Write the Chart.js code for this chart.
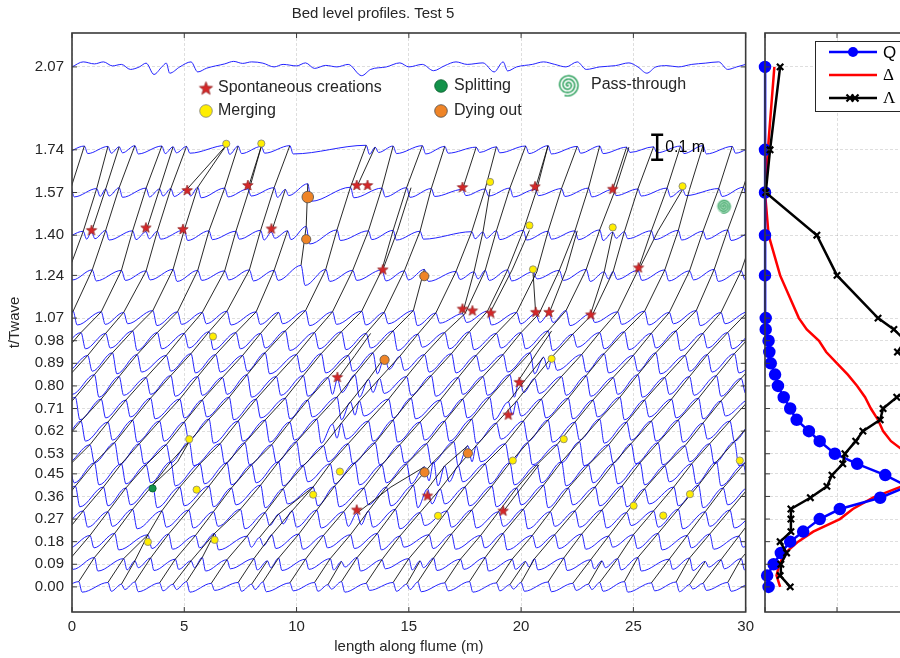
<!DOCTYPE html>
<html lang="en">
<head>
<meta charset="UTF-8">
<title>Bed level profiles. Test 5</title>
<style>
  html, body { margin: 0; padding: 0; background: #fff; overflow: hidden; }
  body { width: 900px; height: 658px; position: relative; }
  #leftBox { position: absolute; left: 0; top: 0; width: 760px; height: 658px; }
  #rightBox { position: absolute; left: 755px; top: 0; width: 300px; height: 658px; }
</style>
</head>
<body>
<div id="leftBox"><canvas id="profiles"></canvas></div>
<div id="rightBox"><canvas id="stats"></canvas></div>

<script src="https://cdn.jsdelivr.net/npm/chart.js"></script>
<script>
// profile levels (t/Twave), also the y tick labels
const levels = [0.00, 0.09, 0.18, 0.27, 0.36, 0.45, 0.53, 0.62, 0.71, 0.80, 0.89, 0.98, 1.07, 1.24, 1.40, 1.57, 1.74, 2.07];

// typical crest-to-trough height (m) and lee face length (m) on each tracked profile
const crestRelief = [0.035, 0.045, 0.055, 0.065, 0.075, 0.08, 0.08, 0.08, 0.075, 0.075, 0.07, 0.065, 0.05, 0.04, 0.035, 0.035, 0.03];
const leeLength = [0.15, 0.15, 0.18, 0.2, 0.2, 0.2, 0.2, 0.2, 0.2, 0.2, 0.2, 0.2, 0.18, 0.18, 0.15, 0.15, 0.15];

// crest tracks: [first level index, size factor, crest x (m) on successive levels...]
const crestTracks = [
  [0, 0.9, 30.3, 31.0],
  [0, 1.0, 29.2, 29.8, 30.7],
  [0, 0.8, 28.1, 28.9, 29.7, 30.5],
  [0, 1.1, 26.9, 27.5, 28.4, 29.3, 30.2, 31.0],
  [0, 0.9, 25.8, 26.6, 27.4, 28.2, 29.0, 29.9, 30.8],
  [0, 1.2, 24.6, 25.2, 26.1, 27.0, 27.9, 28.7, 29.5, 30.4],
  [0, 1.0, 23.5, 24.3, 25.0, 25.9, 26.8, 27.6, 28.4, 29.3, 30.2, 31.0],
  [0, 0.8, 22.3, 23.1, 23.9, 24.7, 25.5, 26.4, 27.3, 28.1, 28.9, 29.8, 30.7],
  [0, 1.1, 21.2, 21.9, 22.7, 23.6, 24.5, 25.3, 26.1, 27.0, 27.9, 28.7, 29.5, 30.4],
  [0, 1.0, 20.0, 20.6, 21.5, 22.4, 23.3, 24.1, 24.9, 25.8, 26.7, 27.5, 28.3, 29.2, 30.1, 31.0],
  [0, 0.9, 18.9, 19.6, 20.5, 21.3, 22.1, 23.0, 23.9, 24.7, 25.5, 26.4, 27.3, 28.1, 28.9, 29.8, 30.4, 31.0],
  [0, 1.2, 17.7, 18.4, 19.2, 20.1, 21.0, 21.8, 22.6, 23.5, 24.4, 25.2, 26.0, 26.9, 27.8, 28.6, 29.2, 29.9, 30.5],
  [0, 0.9, 16.6, 17.3, 18.2, 19.0, 19.8, 20.7, 21.6, 22.4, 23.2, 24.1, 25.0, 25.8, 26.6, 27.5, 28.1, 28.8, 29.4],
  [0, 1.1, 15.4, 16.1, 16.9, 17.8, 18.7, 19.5, 20.3, 21.2, 22.1, 22.9, 23.7, 24.6, 25.5, 26.4, 27.0, 27.5, 28.1],
  [0, 1.0, 14.3, 15.0, 15.9, 16.7, 17.5, 18.4, 19.3, 20.1, 20.9, 21.8, 22.7, 23.5, 24.3, 25.2, 25.8, 26.5, 27.1],
  [0, 0.8, 13.1, 13.8, 14.6, 15.5, 16.4, 17.2, 18.0, 18.9, 19.8, 20.6, 21.4, 22.3, 23.2, 24.1, 24.6, 25.2, 25.9],
  [0, 1.2, 12.0, 12.7, 13.6, 14.4, 15.2, 16.1, 17.0, 17.8, 18.6, 19.5, 20.4, 21.2, 22.0, 22.9, 23.5, 24.2, 24.8],
  [0, 1.0, 10.8, 11.5, 12.4, 13.2, 14.0, 14.9, 15.8, 16.6, 17.4, 18.3, 19.2, 20.0, 20.8, 21.7, 22.4, 23.0, 23.5],
  [0, 0.9, 9.7, 10.4, 11.2, 12.1, 13.0, 13.8, 14.6, 15.5, 16.4, 17.2, 18.0, 18.9, 19.8, 20.7, 21.2, 21.8, 22.5],
  [0, 1.1, 8.5, 9.2, 10.1, 10.9, 11.7, 12.6, 13.5, 14.3, 15.1, 16.0, 16.9, 17.7, 18.5, 19.4, 20.1, 20.7, 21.2],
  [0, 1.0, 7.4, 8.1, 8.9, 9.8, 10.74, 11.5, 12.3, 13.2, 14.1, 14.9, 15.7, 16.6, 17.5, 18.4, 18.9, 19.5, 20.2],
  [0, 0.8, 6.2, 6.9, 7.8, 8.6, 9.4, 10.3, 11.2, 12.0, 12.8, 13.7, 14.6, 15.4, 16.2, 17.1, 17.8, 18.4, 18.9],
  [0, 1.2, 5.1, 5.8, 6.35, 7.5, 8.4, 9.2, 10.0, 10.9, 11.8, 12.6, 13.4, 14.3, 15.2, 15.69],
  [0, 0.9, 3.9, 4.6, 5.5, 6.3, 7.1, 8.0, 8.9, 9.7, 10.5, 11.4, 12.3, 13.1, 13.9, 14.8, 15.5, 16.0, 16.6],
  [0, 1.1, 2.8, 3.5, 4.3, 5.2, 6.1, 6.9, 7.7, 8.6, 9.5, 10.3, 11.1, 12.0, 12.9, 13.8, 14.3, 14.9, 15.6],
  [0, 1.0, 1.6, 2.3, 3.38, 4.0, 4.8, 5.7, 6.6, 7.4, 8.2, 9.1, 10.0, 10.8, 11.6, 12.5, 13.2, 13.8, 14.3],
  [0, 1.2, 0.3, 1.0, 1.9, 2.7, 3.59, 4.4, 5.22, 6.1, 7.0, 7.8, 8.6, 9.5, 10.4, 11.3, 11.8, 12.4, 13.1],
  [0, 0.9, -0.8, -0.1, 0.8, 1.6, 2.4, 3.3, 4.2, 5.0, 5.8, 6.7, 7.6, 8.4, 9.2],
  [2, 1.0, -0.35, 0.5, 1.4, 2.2, 3.0, 3.9, 4.8, 5.6, 6.4, 7.3, 8.2, 9.0, 9.6],
  [3, 1.1, -0.7, 0.15, 1.0, 1.9, 2.7, 3.5, 4.4, 5.3, 6.1, 6.9, 7.9, 8.4, 9.0, 9.7],
  [4, 0.9, -0.95, -0.1, 0.8, 1.6, 2.4, 3.3, 4.2, 5.0, 5.8, 6.8, 7.3, 7.9, 8.43],
  [6, 1.0, -0.45, 0.4, 1.3, 2.1, 2.9, 3.8, 4.7, 5.6, 6.1, 6.8, 7.4],
  [7, 1.2, -0.7, 0.15, 1.0, 1.8, 2.7, 3.6, 4.5, 5.0, 5.6, 6.87],
  [8, 0.9, -1.05, -0.2, 0.7, 1.5, 2.3, 3.3, 3.8, 4.4, 5.1],
  [10, 1.0, -0.45, 0.4, 1.3, 2.2, 2.7, 3.3, 4.0],
  [11, 1.1, -0.8, 0.05, 0.9, 1.5, 2.1, 2.8],
  [12, 0.9, -1.05, -0.15, 0.5, 1.1, 1.6],
  [14, 1.0, -0.65, -0.05, 0.55],
  [15, 1.0, -1.15, -0.55],
  // short lived crests
  [0, 0.6, 2.2, 2.8, 3.38],
  [0, 0.6, 4.5, 5.3, 6.35],
  [0, 0.6, 8.0, 8.7], [0, 0.5, 11.4, 12.0], [0, 0.6, 14.9, 15.5],
  [0, 0.5, 19.5, 20.2], [0, 0.6, 23.0, 23.6], [0, 0.5, 27.5, 28.2],
  [2, 0.6, 8.35, 9.2, 10.74],
  [3, 0.7, 12.68, 14.2, 15.7],
  [3, 0.7, 19.2, 20.0, 20.8],
  [4, 0.8, 3.59, 4.7, 5.22],
  [4, 0.8, 15.83, 16.6, 17.63],
  [7, 0.7, 11.6, 12.4, 13.2, 13.92],
  [8, 0.7, 19.43, 20.2, 21.0],
  [9, 0.7, 11.82, 12.6, 13.3],
  [9, 0.7, 19.92, 20.7, 21.36],
  [13, 2.0, 10.2, 10.43, 10.5],
  [12, 0.7, 17.39, 17.9, 18.3, 18.62],
  [12, 0.7, 18.65, 19.6, 20.37],
  [12, 0.7, 20.65, 20.53],
  [12, 0.7, 21.24, 22.0, 22.5],
  [12, 0.7, 23.1, 23.7, 24.08],
  [13, 0.7, 13.84, 14.5, 15.1],
  [13, 0.7, 25.23, 26.1, 27.19],
  [14, 0.8, 0.87, 1.5, 2.1],
  [14, 0.8, 3.29, 3.9, 4.5],
  [14, 0.7, 8.88, 9.5],
  [15, 0.8, 5.13, 6.87], [15, 0.8, 7.83, 8.43], [15, 0.7, 12.68, 13.5],
  [15, 0.7, 17.39, 18.0], [15, 0.7, 20.62, 21.2], [15, 0.7, 24.08, 24.7]
];

// last profile (t/Twave = 2.07): x (m), bed level (m)
const topProfile = [0,0.0, 0.5,0.02, 1.0,0.012, 1.4,0.02, 1.8,0.004, 2.2,0.01, 2.6,-0.01, 3.0,0.0, 3.3,0.015,
  3.65,-0.03, 4.0,0.0, 4.2,0.015, 4.35,-0.025, 4.8,0.0, 5.3,0.02, 5.6,-0.02, 6.0,-0.005, 6.8,0.012, 7.2,0.022,
  7.6,0.014, 8.0,0.02, 8.5,0.015, 9.0,0.0, 9.4,0.01, 10.0,0.004, 10.4,0.016, 10.8,-0.006, 11.3,0.006, 11.8,0.0,
  12.3,0.01, 12.9,-0.035, 13.3,-0.01, 14.0,0.0, 14.6,0.016, 15.0,0.0, 15.6,0.01, 16.1,-0.015, 16.6,0.005,
  17.1,0.02, 17.6,0.01, 18.3,0.016, 18.8,-0.02, 19.2,0.02, 19.4,-0.016, 19.8,0.0, 20.5,0.01, 21.0,0.02,
  21.5,0.01, 22.0,0.0, 22.5,0.02, 22.9,-0.01, 23.5,0.0, 24.2,0.005, 24.8,0.016, 25.2,0.0, 25.6,-0.025,
  26.0,0.0, 26.5,0.005, 27.0,0.0, 27.6,0.01, 28.2,0.015, 28.8,0.02, 29.2,-0.01, 29.6,0.0, 30.0,0.01];

// events [x (m), t/Twave]
const creations = [[0.87,1.421],[3.29,1.431],[4.94,1.425],[8.88,1.427],[5.13,1.58],[7.83,1.60],[12.68,1.60],
  [13.16,1.60],[17.39,1.592],[20.62,1.595],[24.08,1.585],[13.84,1.264],[25.23,1.272],[17.39,1.108],[17.83,1.101],
  [18.65,1.092],[20.65,1.095],[21.24,1.095],[23.1,1.085],[11.82,0.836],[19.92,0.816],[19.43,0.686],[15.83,0.364],
  [12.68,0.308],[19.2,0.304]];
const merging = [[6.87,1.764],[8.43,1.765],[18.62,1.612],[27.19,1.595],[20.37,1.439],[24.08,1.431],[20.53,1.264],
  [6.28,0.997],[21.36,0.908],[5.22,0.588],[21.9,0.588],[11.93,0.459],[19.63,0.503],[29.74,0.503],[5.55,0.387],
  [10.74,0.367],[27.52,0.369],[25.01,0.323],[26.33,0.284],[16.3,0.283],[3.38,0.179],[6.35,0.187]];
const splitting = [[3.59,0.392]];
const dyingOut = [[10.50,1.552],[10.43,1.384],[15.69,1.237],[13.92,0.904],[17.63,0.532],[15.7,0.456]];
const passThrough = [[29.03,1.515]];

// right panel
const tStat = [0, 0.045, 0.09, 0.135, 0.18, 0.22, 0.27, 0.31, 0.355, 0.40, 0.445, 0.49, 0.53, 0.58, 0.62, 0.665,
  0.71, 0.755, 0.80, 0.845, 0.89, 0.935, 0.98, 1.025, 1.07, 1.24, 1.40, 1.57, 1.74, 2.07];
const qStat = [0.05, 0.03, 0.12, 0.22, 0.35, 0.53, 0.76, 1.04, 1.60, 1.98, 1.67, 1.28, 0.97, 0.76, 0.61, 0.44,
  0.35, 0.26, 0.18, 0.14, 0.08, 0.06, 0.05, 0.01, 0.01, 0.0, 0.0, 0.0, 0.0, 0.0];
const deltaStat = [0.21, 0.16, 0.20, 0.28, 0.46, 0.67, 1.04, 1.22, 1.50, 1.90, 2.30, 2.32, 1.98, 1.75, 1.64, 1.57,
  1.47, 1.39, 1.28, 1.15, 1.00, 0.85, 0.75, 0.58, 0.47, 0.21, 0.05, 0.0, 0.04, 0.13];
const lambdaStat = [0.35, 0.21, 0.22, 0.30, 0.21, 0.36, 0.36, 0.36, 0.63, 0.86, 0.93, 1.08, 1.11, 1.26, 1.36, 1.60,
  1.64, 1.83, 2.08, 2.15, 2.05, 1.84, 1.95, 1.79, 1.57, 1.00, 0.72, 0.01, 0.07, 0.21];

const FONT = "'Liberation Sans', Arial, sans-serif";
Chart.defaults.font.family = FONT;
Chart.defaults.color = '#262626';

// ---- build profiles from the crest tracks
const nTracked = levels.length - 1;
const crestsAt = [];
for (let k = 0; k < nTracked; k++) crestsAt.push([]);
crestTracks.forEach(tr => {
  for (let i = 2; i < tr.length; i++) crestsAt[tr[0] + i - 2].push({x: tr[i], f: tr[1]});
});
const crestTop = [];
const profileData = crestsAt.map((list, k) => {
  list.sort((a, b) => a.x - b.x);
  // crests closer than 0.35 m to the previous one share its bed form
  const kept = [];
  list.forEach(c => { if (!kept.length || c.x - kept[kept.length - 1].x >= 0.35) kept.push(c); });
  crestTop[k] = kept.map(c => ({x: c.x, y: levels[k] + crestRelief[k] * c.f / 2}));
  const pts = [];
  kept.forEach((c, i) => {
    const h = crestRelief[k] * c.f;
    const next = kept[i + 1];
    let tx = c.x + leeLength[k];
    if (next && tx > (c.x + next.x) / 2) tx = (c.x + next.x) / 2;
    pts.push({x: c.x, y: levels[k] + h / 2});
    pts.push({x: tx, y: levels[k] - h / 2});
  });
  return pts;
});
function crestY(k, x) {
  let best = crestTop[k][0];
  crestTop[k].forEach(c => { if (Math.abs(c.x - x) < Math.abs(best.x - x)) best = c; });
  return best.y;
}
const trackData = crestTracks.map(tr => tr.slice(2).map((x, i) => ({x: x, y: crestY(tr[0] + i, x)})));
const topData = [];
for (let i = 0; i < topProfile.length; i += 2) topData.push({x: topProfile[i], y: levels[nTracked] + topProfile[i + 1]});

const toPts = arr => arr.map(p => ({x: p[0], y: p[1]}));

// ---- marker glyphs
function starIcon(r) {
  const c = document.createElement('canvas');
  const s = Math.ceil(r * 2 + 3);
  c.width = s; c.height = s;
  const g = c.getContext('2d');
  g.translate(s / 2, s / 2 + r * 0.1);
  g.beginPath();
  for (let i = 0; i < 10; i++) {
    const rr = i % 2 ? r * 0.42 : r;
    const a = -Math.PI / 2 + i * Math.PI / 5;
    g.lineTo(rr * Math.cos(a), rr * Math.sin(a));
  }
  g.closePath();
  g.fillStyle = '#d62728';
  g.fill();
  g.strokeStyle = '#8a1c1c';
  g.lineWidth = 0.7;
  g.stroke();
  return c;
}
function spiralIcon(r, filled) {
  const c = document.createElement('canvas');
  const s = Math.ceil(r * 2 + 3);
  c.width = s; c.height = s;
  const g = c.getContext('2d');
  g.translate(s / 2, s / 2);
  if (filled) {
    g.fillStyle = 'rgba(40,170,90,0.45)';
    g.beginPath(); g.arc(0, 0, r, 0, Math.PI * 2); g.fill();
  }
  g.strokeStyle = filled ? 'rgba(20,140,70,0.75)' : '#1f9a52';
  g.lineWidth = filled ? 1 : 1.4;
  g.beginPath();
  const turns = 3.3, steps = 160;
  for (let i = 0; i <= steps; i++) {
    const th = i / steps * turns * 2 * Math.PI;
    const rr = r * i / steps;
    g.lineTo(rr * Math.cos(th), rr * Math.sin(th));
  }
  g.stroke();
  return c;
}
const starSmall = starIcon(5.5);
const starLegend = starIcon(7);
const spiralSmall = spiralIcon(7, true);
const spiralLegend = spiralIcon(11, false);

const YELLOW = '#ffee00', GREEN = '#13924a', ORANGE = '#ef8427';

// ---- shared plugins
const framePlugin = {
  id: 'frame',
  afterDraw(chart) {
    const {ctx, chartArea: a, scales: {x, y}} = chart;
    ctx.save();
    ctx.strokeStyle = '#3a3a3a';
    ctx.lineWidth = 1;
    ctx.beginPath();
    x.ticks.forEach(t => {
      const px = x.getPixelForValue(t.value);
      ctx.moveTo(px, a.bottom); ctx.lineTo(px, a.bottom - 5);
      ctx.moveTo(px, a.top); ctx.lineTo(px, a.top + 5);
    });
    y.ticks.forEach(t => {
      const py = y.getPixelForValue(t.value);
      ctx.moveTo(a.left, py); ctx.lineTo(a.left + 5, py);
      ctx.moveTo(a.right, py); ctx.lineTo(a.right - 5, py);
    });
    ctx.stroke();
    ctx.lineWidth = 1.6;
    ctx.strokeRect(a.left, a.top, a.right - a.left, a.bottom - a.top);
    ctx.restore();
  }
};

function dot(ctx, x, y, r, fill, edge) {
  ctx.beginPath();
  ctx.arc(x, y, r, 0, Math.PI * 2);
  ctx.fillStyle = fill;
  ctx.fill();
  ctx.lineWidth = 0.8;
  ctx.strokeStyle = edge;
  ctx.stroke();
}

const eventsLegend = {
  id: 'eventsLegend',
  afterDraw(chart) {
    const {ctx, scales: {x, y}} = chart;
    ctx.save();
    ctx.font = '16px ' + FONT;
    ctx.textBaseline = 'middle';
    ctx.textAlign = 'left';
    ctx.drawImage(starLegend, 206 - starLegend.width / 2, 88 - starLegend.height / 2);
    dot(ctx, 206, 111, 6.3, YELLOW, '#808080');
    dot(ctx, 441, 86, 6.3, GREEN, '#0b5c2d');
    dot(ctx, 441, 111, 6.3, ORANGE, '#4d4d4d');
    ctx.drawImage(spiralLegend, 568 - spiralLegend.width / 2, 85 - spiralLegend.height / 2);
    ctx.fillStyle = '#262626';
    ctx.fillText('Spontaneous creations', 218, 88);
    ctx.fillText('Merging', 218, 111);
    ctx.fillText('Splitting', 454, 86);
    ctx.fillText('Dying out', 454, 111);
    ctx.fillText('Pass-through', 591, 85);
    // 0.1 m scale bar
    const bx = x.getPixelForValue(26.06);
    const y1 = y.getPixelForValue(1.80), y0 = y.getPixelForValue(1.70);
    ctx.strokeStyle = '#000';
    ctx.lineWidth = 2.5;
    ctx.beginPath();
    ctx.moveTo(bx, y1); ctx.lineTo(bx, y0);
    ctx.moveTo(bx - 6, y1); ctx.lineTo(bx + 6, y1);
    ctx.moveTo(bx - 6, y0); ctx.lineTo(bx + 6, y0);
    ctx.stroke();
    ctx.fillStyle = '#000';
    ctx.fillText('0.1 m', bx + 8, (y0 + y1) / 2);
    ctx.restore();
  }
};

// ---- left chart
const leftSets = [
  {data: toPts(creations), pointStyle: starSmall, pointRadius: 6, showLine: false, order: 0},
  {data: toPts(merging), pointStyle: 'circle', pointRadius: 3.6, pointBackgroundColor: YELLOW,
   pointBorderColor: '#7f7f7f', pointBorderWidth: 0.8, showLine: false, order: 0},
  {data: toPts(splitting), pointStyle: 'circle', pointRadius: 3.6, pointBackgroundColor: GREEN,
   pointBorderColor: '#0b5c2d', pointBorderWidth: 0.8, showLine: false, order: 0},
  {data: toPts(dyingOut), pointStyle: 'circle', pointRadius: ctx => ctx.dataIndex === 0 ? 5.8 : 4.6,
   pointBackgroundColor: ORANGE, pointBorderColor: '#4d4d4d', pointBorderWidth: 0.8, showLine: false, order: 0},
  {data: toPts(passThrough), pointStyle: spiralSmall, pointRadius: 7, showLine: false, order: 0}
];
trackData.forEach(d => leftSets.push({data: d, borderColor: '#111', borderWidth: 0.9, pointRadius: 0, order: 1}));
profileData.forEach(d => leftSets.push({data: d, borderColor: '#2222ff', borderWidth: 1, pointRadius: 0,
  cubicInterpolationMode: 'monotone', order: 2}));
leftSets.push({data: topData, borderColor: '#2222ff', borderWidth: 1, pointRadius: 0,
  cubicInterpolationMode: 'monotone', order: 2});

const gridStyle = {color: 'rgba(0,0,0,0.13)', lineWidth: 1, drawTicks: false};
const yRange = {min: -0.1, max: 2.205};

new Chart(document.getElementById('profiles'), {
  type: 'line',
  data: {datasets: leftSets},
  options: {
    responsive: true,
    maintainAspectRatio: false,
    animation: false,
    events: [],
    layout: {padding: {left: 0, right: 14, top: 0, bottom: 0}},
    plugins: {
      legend: {display: false},
      tooltip: {enabled: false},
      title: {display: true, text: 'Bed level profiles. Test 5', color: '#262626',
        font: {size: 15, weight: 'normal'}, padding: {top: 5, bottom: 10}}
    },
    scales: {
      x: {
        type: 'linear', min: 0, max: 30,
        ticks: {stepSize: 5, padding: 6, font: {size: 15}, color: '#262626'},
        grid: gridStyle,
        border: {display: false, dash: [3, 2]},
        title: {display: true, text: 'length along flume (m)', font: {size: 15}, color: '#262626',
          padding: {top: 0, bottom: 2}},
        afterFit: s => { s.height = 46; }
      },
      y: {
        type: 'linear', min: yRange.min, max: yRange.max,
        afterBuildTicks: s => { s.ticks = levels.map(v => ({value: v})); },
        ticks: {autoSkip: false, padding: 8, font: {size: 15}, color: '#262626',
          callback: v => Number(v).toFixed(2)},
        grid: gridStyle,
        border: {display: false, dash: [3, 2]},
        title: {display: true, text: 't/Twave', font: {size: 15}, color: '#262626', padding: {top: 6, bottom: 0}},
        afterFit: s => { s.width = 72; }
      }
    }
  },
  plugins: [framePlugin, eventsLegend]
});

// ---- right chart
const statsLegend = {
  id: 'statsLegend',
  afterDraw(chart) {
    const {ctx, chartArea: a} = chart;
    const bx = a.left + 50, by = a.top + 8;
    ctx.save();
    ctx.fillStyle = '#fff';
    ctx.fillRect(bx, by, 130, 70);
    ctx.strokeStyle = '#262626';
    ctx.lineWidth = 1;
    ctx.strokeRect(bx + 0.5, by + 0.5, 130, 70);
    const rows = [
      {label: 'Q', color: '#0000ff', serif: false},
      {label: '\u0394', color: '#ff0000', serif: true},
      {label: '\u039B', color: '#000000', serif: true}
    ];
    rows.forEach((r, i) => {
      const yy = by + 11 + i * 23;
      ctx.strokeStyle = r.color;
      ctx.lineWidth = 2.5;
      ctx.beginPath();
      ctx.moveTo(bx + 14, yy); ctx.lineTo(bx + 62, yy);
      ctx.stroke();
      if (i === 0) {
        ctx.fillStyle = r.color;
        ctx.beginPath(); ctx.arc(bx + 38, yy, 5, 0, Math.PI * 2); ctx.fill();
      }
      if (i === 2) {
        ctx.lineWidth = 2.2;
        ctx.beginPath();
        [bx + 35, bx + 40].forEach(cx => {
          ctx.moveTo(cx - 3.5, yy - 3.5); ctx.lineTo(cx + 3.5, yy + 3.5);
          ctx.moveTo(cx - 3.5, yy + 3.5); ctx.lineTo(cx + 3.5, yy - 3.5);
        });
        ctx.stroke();
      }
      ctx.fillStyle = '#000';
      ctx.font = r.serif ? "17px 'Liberation Serif', 'Times New Roman', serif" : '17px ' + FONT;
      ctx.textBaseline = 'middle';
      ctx.textAlign = 'left';
      ctx.fillText(r.label, bx + 68, yy + 1);
    });
    ctx.restore();
  }
};

const statPts = vals => vals.map((v, i) => ({x: v, y: tStat[i]}));

new Chart(document.getElementById('stats'), {
  type: 'line',
  data: {
    datasets: [
      {label: '\u039B', data: statPts(lambdaStat), borderColor: '#000', borderWidth: 2.5,
       pointStyle: 'crossRot', pointRadius: 4.5, pointBorderWidth: 2.2, pointBorderColor: '#000',
       clip: false, order: 0},
      {label: 'Q', data: statPts(qStat), borderColor: '#0000ff', borderWidth: 2.5,
       pointStyle: 'circle', pointRadius: 5, pointBackgroundColor: '#0000ff', pointBorderColor: '#0000ff',
       clip: false, order: 1},
      {label: '\u0394', data: statPts(deltaStat), borderColor: '#ff0000', borderWidth: 2.5, pointRadius: 0,
       clip: false, order: 2}
    ]
  },
  options: {
    responsive: true,
    maintainAspectRatio: false,
    animation: false,
    events: [],
    layout: {padding: {left: 10, right: 74, top: 33, bottom: 0}},
    plugins: {legend: {display: false}, tooltip: {enabled: false}},
    scales: {
      x: {
        type: 'linear', min: 0, max: 3,
        ticks: {display: false, stepSize: 1},
        grid: gridStyle,
        border: {display: false, dash: [3, 2]},
        afterFit: s => { s.height = 46; }
      },
      y: {
        type: 'linear', min: yRange.min, max: yRange.max,
        afterBuildTicks: s => { s.ticks = levels.map(v => ({value: v})); },
        ticks: {display: false, autoSkip: false},
        grid: gridStyle,
        border: {display: false, dash: [3, 2]},
        afterFit: s => { s.width = 0; }
      }
    }
  },
  plugins: [framePlugin, statsLegend]
});
</script>
</body>
</html>
